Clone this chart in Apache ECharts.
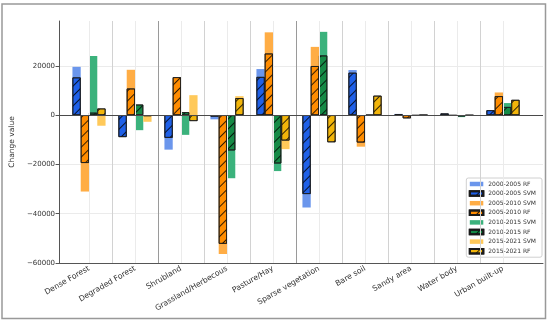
<!DOCTYPE html>
<html><head><meta charset="utf-8">
<script src="https://cdn.jsdelivr.net/npm/echarts@6/dist/echarts.min.js"></script>
<style>html,body{margin:0;padding:0;background:#fff}#c{width:550px;height:323px}</style>
</head><body><div id="c"></div>
<script>
const categories = ['Dense Forest','Degraded Forest','Shrubland','Grassland/Herbecous','Pasture/Hay','Sparse vegetation','Bare soil','Sandy area','Water body','Urban built-up'];
const lightNames = ['2000-2005 RF','2005-2010 SVM','2010-2015 SVM','2015-2021 SVM'];
const hatchNames = ['2000-2005 SVM','2005-2010 RF','2010-2015 RF','2015-2021 RF'];
const p1Light = [19600, -8700, -14000, -1700, 18700, -37500, 18300, 500, 500, 1800];
const p1Hatch = [15300, -8900, -9200, -600, 15500, -32000, 17200, 300, 700, 2000];
const p2Light = [-31000, 18400, 15000, -56300, 33600, 27700, -12800, -1000, -100, 9200];
const p2Hatch = [-19400, 10800, 15400, -52200, 25000, 19900, -11100, -1300, -200, 7700];
const p3Light = [24000, -6100, -8000, -25600, -22700, 33800, 0, -300, -800, 4900];
const p3Hatch = [1000, 4300, 1200, -14300, -19600, 24200, 0, -200, -500, 3300];
const p4Light = [-4300, -2700, 8100, 7700, -13800, -10500, 7600, -100, -200, 6000];
const p4Hatch = [2700, -400, -2400, 6900, -10300, -11000, 7900, 0, -100, 6200];
const yTicks = [-60000, -40000, -20000, 0, 20000];
const darkSeparators = [2, 5];

const lightData = [p1Light, p2Light, p3Light, p4Light];
const hatchData = [p1Hatch, p2Hatch, p3Hatch, p4Hatch];
const lightColors = ['#6b96ec', '#ffad45', '#3bb27c', '#ffc95a'];
const hatchColors = ['#1f60e8', '#ff8c00', '#158a46', '#f2b50a'];

const FONT = 'DejaVu Sans';
const YMIN = -60000, YMAX = 38200;

const hatch = {symbol: 'rect', symbolSize: 1, color: 'rgba(0,0,0,0.8)', dashArrayX: [1, 0], dashArrayY: [1, 6], rotation: -Math.PI / 4};

const series = [];
for (let i = 0; i < 4; i++) {
  series.push({name: lightNames[i], type: 'bar', xAxisIndex: 1, yAxisIndex: 1, data: lightData[i],
    barWidth: '18%', barGap: '0%', z: 2,
    itemStyle: {color: lightColors[i]}});
  series.push({name: hatchNames[i], type: 'bar', xAxisIndex: 2, yAxisIndex: 1, data: hatchData[i],
    barWidth: '18%', barGap: '0%', z: 3,
    itemStyle: {color: hatchColors[i], borderColor: '#1a1a1a', borderWidth: 0.8, decal: hatch}});
}
// vertical guide lines (band centers + boundaries)
const vlines = [];
for (let i = 0; i < categories.length; i++) {
  vlines.push({xAxis: i + 0.5, lineStyle: {color: '#ebebeb', width: 1, type: 'solid'}});
  if (i > 0) vlines.push({xAxis: i, lineStyle: {color: darkSeparators.includes(i) ? '#9a9a9a' : '#d2d2d2', width: 1, type: 'solid'}});
}
series.push({type: 'line', xAxisIndex: 3, yAxisIndex: 1, data: [], silent: true, z: 1,
  markLine: {symbol: 'none', silent: true, label: {show: false}, data: vlines, animation: false}});
series.push({type: 'line', xAxisIndex: 0, yAxisIndex: 0, data: [], silent: true, z: 4,
  markLine: {symbol: 'none', silent: true, label: {show: false}, animation: false,
    data: [{yAxis: 0, lineStyle: {color: '#4a4a4a', width: 1, type: 'solid'}}]}});

const legendOrder = [];
for (let i = 0; i < 4; i++) { legendOrder.push(lightNames[i], hatchNames[i]); }

const chart = echarts.init(document.getElementById('c'), null, {renderer: 'canvas'});
chart.setOption({
  animation: false,
  backgroundColor: '#fff',
  textStyle: {fontFamily: FONT},
  grid: [
    {left: 50, right: 7, top: 21, bottom: 60},
    {left: 66, right: 24, top: 21, bottom: 60}
  ],
  xAxis: [
    {type: 'value', gridIndex: 0, min: 0, max: 1, axisLine: {show: true, onZero: false, lineStyle: {color: '#555', width: 1}},
      axisTick: {show: false}, axisLabel: {show: false}, splitLine: {show: false}},
    {type: 'category', gridIndex: 1, data: categories, axisLine: {show: false},
      axisTick: {show: true, alignWithLabel: true, length: 3.5, lineStyle: {color: '#555'}},
      axisLabel: {rotate: 30, fontSize: 7.7, color: '#333', fontFamily: FONT, margin: 5, interval: 0},
      splitLine: {show: false}},
    {type: 'category', gridIndex: 1, data: categories, show: false},
    {type: 'value', gridIndex: 1, min: 0, max: 10, show: false}
  ],
  yAxis: [
    {type: 'value', gridIndex: 0, min: YMIN, max: YMAX, interval: 20000,
      name: 'Change value', nameLocation: 'middle', nameGap: 38,
      nameTextStyle: {fontSize: 7.5, color: '#333', fontFamily: FONT},
      axisLine: {show: true, lineStyle: {color: '#555', width: 1}},
      axisTick: {show: true, length: 3.5, lineStyle: {color: '#555'}},
      axisLabel: {fontSize: 7, color: '#333', fontFamily: FONT, margin: 4, showMaxLabel: false,
        formatter: v => yTicks.includes(v) ? (v < 0 ? '\u2212' + Math.abs(v) : String(v)) : ''},
      splitLine: {show: true, showMaxLine: false, lineStyle: {color: '#ebebeb', width: 1}}},
    {type: 'value', gridIndex: 1, min: YMIN, max: YMAX, show: false, splitLine: {show: false}}
  ],
  legend: {
    data: legendOrder, orient: 'vertical', right: 8, top: 178,
    backgroundColor: '#fff', borderColor: '#d0d0d0', borderWidth: 1, borderRadius: 2,
    padding: [1.5, 6, 1.5, 2.5], itemGap: 0.6, itemWidth: 13.5, itemHeight: 4.5, icon: 'rect',
    textStyle: {fontSize: 6, color: '#333', fontFamily: FONT, lineHeight: 9}
  },
  graphic: [{type: 'rect', shape: {x: 2, y: 4, width: 543.5, height: 314.5}, silent: true, z: 100,
    style: {fill: 'none', stroke: '#999', lineWidth: 1.5}}],
  series: series
});
</script></body></html>
